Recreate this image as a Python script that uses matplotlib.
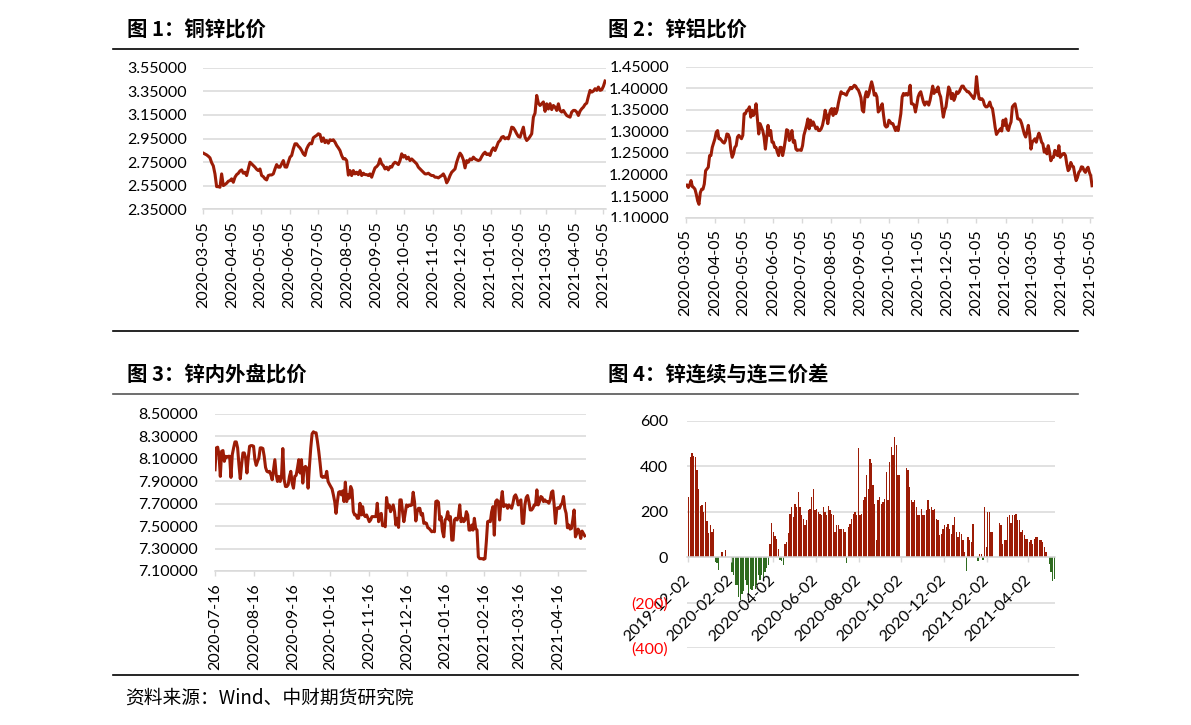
import matplotlib
matplotlib.use('Agg')
import matplotlib.pyplot as plt
from matplotlib.lines import Line2D
from matplotlib.patches import Rectangle
from matplotlib.ticker import FuncFormatter
import pandas as pd

plt.rcParams['font.family'] = ['Lato', 'Noto Sans CJK SC', 'DejaVu Sans']

W, H = 1191, 725
RED = '#9C1C06'
GREEN = '#2E6B1F'
GRID = '#D9D9D9'

# 图1 铜锌比价
cu_zn_start, cu_zn_end = '2020-03-05', '2021-05-07'
cu_zn_ticks = [2.35, 2.55, 2.75, 2.95, 3.15, 3.35, 3.55]
cu_zn_ratio = [
    2.826, 2.818, 2.811, 2.800, 2.786, 2.745, 2.718, 2.650, 2.542, 2.542,
    2.537, 2.650, 2.551, 2.560, 2.571, 2.588, 2.593, 2.608, 2.579, 2.622,
    2.644, 2.655, 2.675, 2.684, 2.656, 2.664, 2.636, 2.692, 2.749, 2.735,
    2.722, 2.707, 2.689, 2.678, 2.692, 2.636, 2.627, 2.608, 2.599, 2.636,
    2.641, 2.641, 2.650, 2.692, 2.729, 2.707, 2.707, 2.735, 2.763, 2.709,
    2.707, 2.750, 2.792, 2.806, 2.862, 2.905, 2.905, 2.885, 2.871, 2.848,
    2.820, 2.806, 2.862, 2.891, 2.910, 2.905, 2.956, 2.967, 2.976, 2.990,
    2.984, 2.925, 2.955, 2.915, 2.933, 2.910, 2.939, 2.933, 2.939, 2.919,
    2.891, 2.871, 2.848, 2.806, 2.777, 2.780, 2.763, 2.640, 2.678, 2.636,
    2.678, 2.650, 2.664, 2.644, 2.678, 2.636, 2.656, 2.644, 2.644, 2.636,
    2.650, 2.622, 2.664, 2.701, 2.712, 2.729, 2.777, 2.735, 2.721, 2.692,
    2.707, 2.684, 2.712, 2.707, 2.735, 2.749, 2.741, 2.729, 2.763, 2.820,
    2.792, 2.806, 2.777, 2.792, 2.763, 2.777, 2.763, 2.749, 2.735, 2.707,
    2.692, 2.678, 2.664, 2.650, 2.650, 2.656, 2.644, 2.636, 2.636, 2.622,
    2.622, 2.616, 2.627, 2.636, 2.650, 2.622, 2.574, 2.599, 2.636, 2.664,
    2.678, 2.692, 2.749, 2.792, 2.826, 2.806, 2.769, 2.701, 2.763, 2.749,
    2.777, 2.769, 2.792, 2.777, 2.769, 2.763, 2.769, 2.797, 2.820, 2.834,
    2.814, 2.820, 2.806, 2.848, 2.871, 2.848, 2.882, 2.919, 2.933, 2.961,
    2.967, 2.947, 2.956, 2.947, 2.990, 3.046, 3.041, 3.018, 2.990, 2.967,
    2.961, 3.004, 3.046, 2.961, 2.933, 2.947, 2.967, 2.990, 3.131, 3.165,
    3.315, 3.250, 3.230, 3.245, 3.260, 3.180, 3.244, 3.200, 3.245, 3.195,
    3.230, 3.216, 3.188, 3.244, 3.188, 3.174, 3.188, 3.165, 3.145, 3.137,
    3.131, 3.174, 3.188, 3.188, 3.174, 3.145, 3.182, 3.202, 3.216, 3.239,
    3.250, 3.307, 3.358, 3.343, 3.352, 3.372, 3.358, 3.386, 3.358, 3.363,
    3.392, 3.437,
]

# 图2 锌铝比价
zn_al_start, zn_al_end = '2020-03-05', '2021-05-07'
zn_al_ticks = [1.10, 1.15, 1.20, 1.25, 1.30, 1.35, 1.40, 1.45]
zn_al_ratio = [
    1.174, 1.176, 1.170, 1.176, 1.186, 1.172, 1.170, 1.166, 1.154, 1.139, 1.131,
    1.158, 1.166, 1.166, 1.178, 1.209, 1.213, 1.217, 1.244, 1.244, 1.263, 1.273, 1.283, 1.298,
    1.302, 1.283, 1.283, 1.279, 1.275, 1.273, 1.279, 1.294, 1.293, 1.285, 1.256, 1.240,
    1.248, 1.263, 1.267, 1.287, 1.291, 1.287, 1.283, 1.291, 1.341, 1.341, 1.349, 1.350, 1.357,
    1.333, 1.349, 1.337, 1.345, 1.364, 1.329, 1.294, 1.318, 1.310, 1.302, 1.287, 1.259,
    1.287, 1.314, 1.291, 1.302, 1.275, 1.275, 1.263, 1.263, 1.252, 1.244, 1.263, 1.263, 1.244,
    1.259, 1.279, 1.304, 1.302, 1.279, 1.287, 1.302, 1.275, 1.279, 1.259, 1.256, 1.257,
    1.257, 1.256, 1.267, 1.291, 1.302, 1.314, 1.329, 1.306, 1.326, 1.314, 1.322, 1.314, 1.306,
    1.310, 1.302, 1.302, 1.306, 1.314, 1.329, 1.349, 1.337, 1.318, 1.337, 1.349, 1.353,
    1.337, 1.353, 1.341, 1.349, 1.366, 1.380, 1.392, 1.388, 1.388, 1.386, 1.384, 1.392, 1.396,
    1.402, 1.399, 1.403, 1.407, 1.405, 1.399, 1.396, 1.388, 1.378,
    1.349, 1.345, 1.380, 1.392, 1.380, 1.388, 1.403, 1.415, 1.403, 1.384, 1.388, 1.380,
    1.345, 1.349, 1.357, 1.364, 1.337, 1.314, 1.310, 1.312, 1.326, 1.322, 1.318, 1.318,
    1.310, 1.302, 1.310, 1.302, 1.322, 1.341, 1.380, 1.388, 1.384, 1.388, 1.384, 1.388,
    1.407, 1.364, 1.364, 1.361, 1.345, 1.361, 1.380, 1.388, 1.392, 1.380, 1.368, 1.361,
    1.368, 1.368, 1.361, 1.372, 1.388, 1.405, 1.388, 1.396, 1.392, 1.403, 1.388, 1.380,
    1.357, 1.333, 1.349, 1.357, 1.380, 1.403, 1.396, 1.376, 1.388, 1.372, 1.380, 1.392,
    1.388, 1.392, 1.399, 1.405, 1.405, 1.399, 1.396, 1.392, 1.392, 1.388, 1.384, 1.380,
    1.376, 1.388, 1.427,
    1.396, 1.376, 1.374, 1.376, 1.372, 1.361, 1.357, 1.357, 1.361, 1.368, 1.357, 1.353,
    1.333, 1.310, 1.293, 1.298, 1.302, 1.306, 1.301, 1.326, 1.314, 1.329, 1.306, 1.302,
    1.314, 1.322, 1.357, 1.361, 1.364, 1.349, 1.329, 1.329, 1.326, 1.318, 1.306, 1.294,
    1.287, 1.298, 1.314, 1.294, 1.259, 1.275, 1.279, 1.283, 1.275, 1.287, 1.296, 1.287,
    1.275, 1.271, 1.252, 1.259, 1.248, 1.267, 1.252, 1.232, 1.240, 1.240, 1.256, 1.248,
    1.244, 1.267, 1.240, 1.244, 1.248, 1.249, 1.244, 1.224, 1.209, 1.213, 1.228, 1.220,
    1.218, 1.201, 1.186, 1.193, 1.205, 1.209, 1.218, 1.217, 1.209, 1.205, 1.213, 1.217,
    1.205, 1.197, 1.174,
]

# 图3 锌内外盘比价
zn_io_start, zn_io_end = '2020-07-16', '2021-05-07'
zn_io_ticks = [7.10, 7.30, 7.50, 7.70, 7.90, 8.10, 8.30, 8.50]
zn_io_ratio = [
    8.001, 8.196, 8.202, 8.136, 7.942, 8.166, 8.172, 8.076, 8.121, 8.112,
    8.121, 8.121, 7.933, 8.136, 8.196, 8.249, 8.249, 8.196, 8.046, 7.921,
    8.046, 8.151, 8.151, 8.106, 7.972, 8.106, 8.210, 8.216, 8.216, 8.210,
    8.091, 8.040, 8.076, 8.106, 8.196, 8.196, 8.190, 8.121, 8.022, 7.987,
    7.981, 7.987, 7.957, 7.912, 8.001, 8.091, 7.957, 7.897, 7.942, 7.897,
    7.942, 8.190, 7.912, 7.852, 7.852, 7.867, 7.942, 7.987, 7.882, 7.837,
    7.942, 7.951, 8.016, 8.091, 7.972, 8.091, 7.882, 8.016, 8.031, 8.016,
    7.837, 8.031, 8.196, 8.321, 8.339, 8.330, 8.330, 8.255, 8.166, 8.061,
    7.942, 7.933, 7.942, 7.933, 7.987, 7.897, 7.873, 7.852, 7.831, 7.778,
    7.718, 7.613, 7.718, 7.801, 7.807, 7.778, 7.813, 7.718, 7.891, 7.718,
    7.778, 7.748, 7.852, 7.822, 7.628, 7.599, 7.599, 7.569, 7.569, 7.703,
    7.599, 7.673, 7.599, 7.584, 7.599, 7.569, 7.539, 7.554, 7.584, 7.584,
    7.584, 7.584, 7.703, 7.539, 7.599, 7.613, 7.503, 7.509, 7.494, 7.754,
    7.664, 7.688, 7.628, 7.658, 7.688, 7.628, 7.509, 7.569, 7.488, 7.733,
    7.733, 7.628, 7.539, 7.613, 7.688, 7.673, 7.688, 7.682, 7.688, 7.801,
    7.718, 7.545, 7.628, 7.658, 7.658, 7.599, 7.613, 7.524, 7.530, 7.524,
    7.485, 7.479, 7.464, 7.449, 7.455, 7.449, 7.718, 7.724, 7.712, 7.554,
    7.584, 7.455, 7.404, 7.554, 7.569, 7.628, 7.554, 7.584, 7.375, 7.375,
    7.554, 7.569, 7.554, 7.584, 7.688, 7.539, 7.569, 7.539, 7.554, 7.628,
    7.599, 7.464, 7.464, 7.509, 7.464, 7.569, 7.479, 7.464, 7.225, 7.210,
    7.210, 7.210, 7.204, 7.210, 7.360, 7.539, 7.545, 7.539, 7.628, 7.673,
    7.419, 7.718, 7.733, 7.718, 7.554, 7.718, 7.807, 7.673, 7.688, 7.688,
    7.658, 7.688, 7.673, 7.658, 7.703, 7.763, 7.778, 7.748, 7.688, 7.718,
    7.733, 7.524, 7.524, 7.688, 7.754, 7.772, 7.718, 7.643, 7.643, 7.658,
    7.688, 7.688, 7.822, 7.688, 7.718, 7.763, 7.754, 7.718, 7.733, 7.718,
    7.718, 7.703, 7.733, 7.801, 7.813, 7.688, 7.524, 7.658, 7.664, 7.658,
    7.688, 7.703, 7.763, 7.658, 7.613, 7.485, 7.509, 7.473, 7.479, 7.554,
    7.643, 7.404, 7.434, 7.473, 7.449, 7.390, 7.455, 7.434, 7.413,
]

# 图4 锌连续与连三价差
spread_start, spread_end = '2019-12-03', '2021-05-09'
spread_ticks = [-400, -200, 0, 200, 400, 600]
zn_spread = [
    265, 439, 457, 445, 440, 385, 300, 224, 228, 200,
    243, 160, 106, 140, 110, 122, -20, -25, -55, 0,
    25, 0, 32, 0, 0, 0, -63, -80, -120, -120,
    -173, -187, -160, -150, -99, -121, -160, -140, -143, -125,
    -140, -120, -78, -99, -80, -100, -63, -48, -35, 60,
    150, 110, 95, 80, 35, -10, -15, -35, 59, 66,
    106, 192, 221, 177, 236, 221, 287, 221, 184, 170,
    140, 162, 206, 214, 265, 302, 206, 214, 199, 192,
    184, 221, 199, 184, 224, 206, 192, 184, 111, 140,
    140, 125, 122, 122, 111, -25, 133, 147, 170, 192,
    199, 184, 479, 184, 192, 250, 265, 361, 302, 430,
    413, 317, 236, 77, 250, 265, 236, 243, 258, 376,
    250, 420, 486, 450, 530, 494, 361, 361, 0, 0,
    0, 390, 383, 310, 250, 243, 250, 221, 184, 184,
    214, 184, 184, 206, 250, 214, 221, 206, 214, 170,
    162, 96, 103, 125, 140, 133, 147, 125, 103, 140,
    177, 111, 88, 111, 103, 74, 22, -60, 88, 74,
    66, 147, 0, 0, -15, 15, 15, -10, 221, 44,
    199, 199, 110, 110, 0, 0, 0, 150, 140, 59,
    77, 77, 177, 184, 150, 184, 184, 192, 162, 162,
    110, 118, 96, 81, 81, 66, 74, 59, 81, 88,
    88, 74, 74, 66, 44, 22, 0, -30, -66, -103,
    -95,
]


def box(left, top, right, bottom):
    # pixel edges (from top-left) -> figure fraction rect
    return [left / W, 1 - bottom / H, (right - left) / W, (bottom - top) / H]


def hrule(fig, y, color='black', lw=1.2):
    fig.add_artist(Line2D([113 / W, 1078 / W], [1 - y / H, 1 - y / H],
                          color=color, lw=lw))


def white_out(fig, left, top, right, bottom):
    # 遮住被截断的末尾日期标签
    fig.add_artist(Rectangle((left / W, 1 - bottom / H), (right - left) / W,
                             (bottom - top) / H, transform=fig.transFigure,
                             facecolor='white', edgecolor='none', zorder=5))


def title(fig, x, y, text):
    fig.text(x / W, 1 - y / H, text, fontsize=14.7, fontweight='bold',
             family=['Noto Sans CJK SC'], va='center', ha='left')


def line_panel(fig, rect, start, end, values, yticks, xlim, ticks):
    ax = fig.add_axes(rect)
    dates = pd.date_range(start, end, periods=len(values))
    ax.plot(dates, values, color=RED, lw=2.2, solid_joinstyle='round', zorder=3)
    ax.set_xlim(pd.Timestamp(xlim[0]), pd.Timestamp(xlim[1]))
    ax.set_ylim(yticks[0], yticks[-1])
    ax.set_yticks(yticks)
    ax.yaxis.set_major_formatter(FuncFormatter(lambda v, p: f'{v:.5f}'))
    ax.set_xticks(ticks)
    ax.set_xticklabels([d.strftime('%Y-%m-%d') for d in ticks], rotation=90)
    ax.grid(axis='y', color=GRID, lw=1.1)
    for s in ['top', 'right', 'left']:
        ax.spines[s].set_visible(False)
    ax.spines['bottom'].set_color(GRID)
    ax.spines['bottom'].set_linewidth(1.1)
    ax.tick_params(axis='y', length=0, pad=12, labelsize=11.5)
    ax.tick_params(axis='x', length=3.5, color=GRID, width=1, pad=5, labelsize=11.5)
    return ax


def main():
    fig = plt.figure(figsize=(W / 100, H / 100), dpi=100)

    monthly_05 = pd.date_range('2020-03-05', '2021-05-05', freq=pd.DateOffset(months=1))
    monthly_16 = pd.date_range('2020-07-16', '2021-04-16', freq=pd.DateOffset(months=1))
    bimonthly = pd.date_range('2019-12-02', '2021-04-02', freq=pd.DateOffset(months=2))

    line_panel(fig, box(203.3, 67.7, 606, 209.3), cu_zn_start, cu_zn_end, cu_zn_ratio,
               cu_zn_ticks, ('2020-03-05', '2021-05-08'), monthly_05)
    line_panel(fig, box(685.7, 66.7, 1093, 217.7), zn_al_start, zn_al_end, zn_al_ratio,
               zn_al_ticks, ('2020-03-05', '2021-05-08'), monthly_05)
    line_panel(fig, box(215, 413.7, 586, 571), zn_io_start, zn_io_end, zn_io_ratio,
               zn_io_ticks, ('2020-07-16', '2021-05-08'), monthly_16)
    white_out(fig, 606.5, 222, 640, 320)
    white_out(fig, 1093.5, 226, 1191, 320)

    # 图4 柱状图
    ax4 = fig.add_axes(box(687.3, 420.7, 1055, 648.3))
    for s in ['top', 'right', 'left']:
        ax4.spines[s].set_visible(False)
    ax4.spines['bottom'].set_position(('data', 0))
    ax4.spines['bottom'].set_color(GRID)
    ax4.spines['bottom'].set_linewidth(1.1)
    dates4 = pd.date_range(spread_start, spread_end, periods=len(zn_spread))
    colors = [RED if v >= 0 else GREEN for v in zn_spread]
    ax4.bar(dates4, zn_spread, width=1.9, color=colors, linewidth=0, zorder=1)
    for y in spread_ticks:
        ax4.axhline(y, color=GRID, lw=1.1, zorder=0.5)
    ax4.set_ylim(spread_ticks[0], spread_ticks[-1])
    ax4.set_yticks(spread_ticks)
    ax4.yaxis.set_major_formatter(
        FuncFormatter(lambda v, p: f'({abs(v):.0f})' if v < 0 else f'{v:.0f}'))
    ax4.set_xlim(pd.Timestamp('2019-12-01'), pd.Timestamp('2021-05-10'))
    ax4.set_axisbelow(False)
    ax4.tick_params(axis='y', length=0, pad=14, labelsize=11.5)
    ax4.tick_params(axis='x', length=3.5, color=GRID, width=1, pad=11, labelsize=11.5)
    ax4.set_xticks(bimonthly)
    ax4.set_xticklabels([d.strftime('%Y-%m-%d') for d in bimonthly], rotation=45,
                        ha='right', va='center', rotation_mode='anchor')
    for lbl, v in zip(ax4.get_yticklabels(), spread_ticks):
        if v < 0:
            lbl.set_color('#FF0000')

    # 标题与分隔线
    title(fig, 127, 30.5, '图 1：铜锌比价')
    title(fig, 608, 30.5, '图 2：锌铝比价')
    title(fig, 127, 375, '图 3：锌内外盘比价')
    title(fig, 608, 375, '图 4：锌连续与连三价差')
    hrule(fig, 49)
    hrule(fig, 331)
    hrule(fig, 394, color='#555555')
    hrule(fig, 675)
    fig.text(125 / W, 1 - 698 / H, '资料来源：Wind、中财期货研究院', fontsize=13.5,
             family=['Noto Sans CJK SC'], va='center', ha='left')

    plt.savefig('out.png', dpi=100)
    plt.close()


if __name__ == '__main__':
    main()
